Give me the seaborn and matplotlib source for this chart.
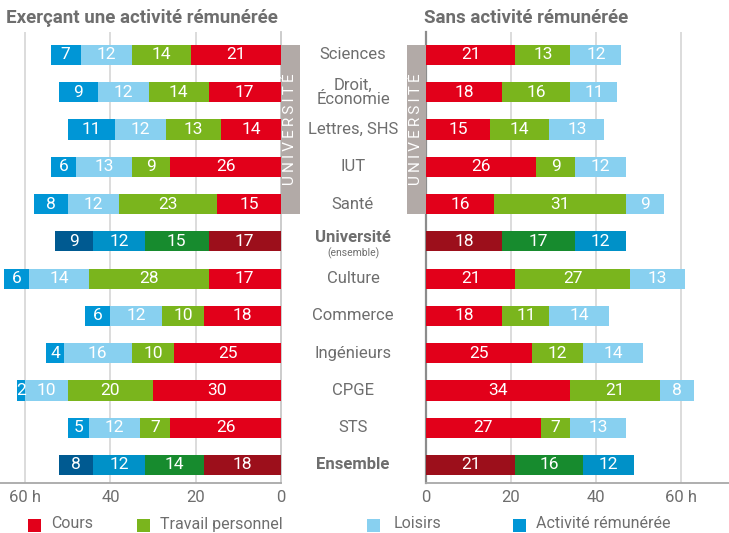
import matplotlib
matplotlib.use("Agg")
import matplotlib.pyplot as plt
import matplotlib.transforms as mtransforms
from matplotlib.patches import Rectangle
import seaborn as sns
import pandas as pd

categories = ["Sciences", "Droit,\nÉconomie", "Lettres, SHS", "IUT", "Santé",
              "Université", "Culture", "Commerce", "Ingénieurs", "CPGE", "STS", "Ensemble"]

# Left panel: students with a paid job (hours per week)
left_cours = [21, 17, 14, 26, 15, 17, 17, 18, 25, 30, 26, 18]
left_travail = [14, 14, 13, 9, 23, 15, 28, 10, 10, 20, 7, 14]
left_loisirs = [12, 12, 12, 13, 12, 12, 14, 12, 16, 10, 12, 12]
left_activite = [7, 9, 11, 6, 8, 9, 6, 6, 4, 2, 5, 8]

# Right panel: students without a paid job
right_cours = [21, 18, 15, 26, 16, 18, 21, 18, 25, 34, 27, 21]
right_travail = [13, 16, 14, 9, 31, 17, 27, 11, 12, 21, 7, 16]
right_loisirs = [12, 11, 13, 12, 9, 12, 13, 14, 14, 8, 13, 12]

series_names = ["Cours", "Travail personnel", "Loisirs", "Activité rémunérée"]
ticks_left = [60, 40, 20, 0]
ticks_left_labels = ["60 h", "40", "20", "0"]
ticks_right = [0, 20, 40, 60]
ticks_right_labels = ["0", "20", "40", "60 h"]

bold_rows = {"Université", "Ensemble"}

normal_cols = ["#e2001a", "#7ab51d", "#88d0f0", "#0096d6"]
dark_cols = ["#9c0f1b", "#178b2e", "#0091c8", "#005a91"]

FONT = ["Roboto", "DejaVu Sans"]
plt.rcParams["font.family"] = FONT
GREY_TXT = "#6e6e6e"

fig = plt.figure(figsize=(7.29, 5.33), dpi=100)
W, H = 729, 533

def px_axes(x0, x1, ytop, ybot):
    return fig.add_axes([x0 / W, (H - ybot) / H, (x1 - x0) / W, (ybot - ytop) / H])

axL = px_axes(0, 281, 32, 483)
axR = px_axes(426, 729, 32, 483)

def draw_panel(ax, series):
    df = pd.DataFrame({"cat": categories})
    n = len(series)
    cums = []
    total = [0] * len(categories)
    for s in series:
        total = [a + b for a, b in zip(total, s)]
        cums.append(list(total))
    for k in range(n - 1, -1, -1):
        df["v"] = cums[k]
        pal = {c: (dark_cols[k] if c in bold_rows else normal_cols[k]) for c in categories}
        sns.barplot(data=df, x="v", y="cat", hue="cat", palette=pal, orient="h",
                    width=0.54, legend=False, errorbar=None, saturation=1, ax=ax,
                    linewidth=0, zorder=3)
    for i in range(len(categories)):
        prev = 0
        for k in range(n):
            v = series[k][i]
            ax.text(prev + v / 2, i, str(v), ha="center", va="center",
                    color="white", fontsize=12.5, zorder=5)
            prev += v
    ax.set_xlabel("")
    ax.set_ylabel("")
    ax.set_yticks([])
    ax.set_ylim(11.483, -0.617)
    ax.tick_params(axis="x", length=0, labelsize=12, colors=GREY_TXT, pad=5)
    ax.spines["top"].set_visible(False)
    ax.spines["bottom"].set_color("#a8a8a8")
    ax.spines["bottom"].set_linewidth(1.3)
    ax.set_facecolor("none")

draw_panel(axL, [left_cours, left_travail, left_loisirs, left_activite])
draw_panel(axR, [right_cours, right_travail, right_loisirs])

axL.set_xlim(65.9, 0)
axL.set_xticks(ticks_left)
axL.set_xticklabels(ticks_left_labels)
axL.spines["left"].set_visible(False)
axL.spines["right"].set_color("#c8c8c8")
axL.spines["right"].set_linewidth(1.3)
for g in [20, 40, 60]:
    axL.axvline(g, color="#d6d6d6", lw=1.2, zorder=0)

axR.set_xlim(0, 71.3)
axR.set_xticks(ticks_right)
axR.set_xticklabels(ticks_right_labels)
axR.spines["right"].set_visible(False)
axR.spines["left"].set_color("#8c8c8c")
axR.spines["left"].set_linewidth(1.6)
for g in [20, 40, 60]:
    axR.axvline(g, color="#d6d6d6", lw=1.2, zorder=0)

# UNIVERSITÉ boxes
box_col = "#b2aaa7"
ytop_b, ybot_b = -0.27, 4.27
univ_txt = "\u2009".join("UNIVERSITÉ")
wL = 19 / (281 / 65.9)
axL.add_patch(Rectangle((-wL, ytop_b), wL, ybot_b - ytop_b, facecolor=box_col,
                        edgecolor="none", clip_on=False, zorder=4))
axL.text(-wL / 2, (ytop_b + ybot_b) / 2, univ_txt, rotation=90,
         ha="center", va="center", color="white", fontsize=11, clip_on=False, zorder=6)
wR = 19 / (303 / 71.3)
axR.add_patch(Rectangle((-wR, ytop_b), wR, ybot_b - ytop_b, facecolor=box_col,
                        edgecolor="none", clip_on=False, zorder=4))
axR.text(-wR / 2, (ytop_b + ybot_b) / 2, univ_txt, rotation=90,
         ha="center", va="center", color="white", fontsize=11, clip_on=False, zorder=6)

# Category labels
tr = mtransforms.blended_transform_factory(fig.transFigure, axR.transData)
cx = 353 / W
for i, c in enumerate(categories):
    if c == "Université":
        fig.text(cx, i - 0.1, c, transform=tr, ha="center", va="center",
                 color=GREY_TXT, fontsize=12, fontweight="bold")
        fig.text(cx, i + 0.32, "(ensemble)", transform=tr, ha="center", va="center",
                 color=GREY_TXT, fontsize=7.5)
    else:
        fig.text(cx, i, c, transform=tr, ha="center", va="center", color=GREY_TXT,
                 fontsize=12, linespacing=0.92,
                 fontweight="bold" if c in bold_rows else "normal")

# Titles
fig.text(6 / W, 1 - 18 / H, "Exerçant une activité rémunérée", ha="left", va="center",
         color=GREY_TXT, fontsize=13.5, fontweight="bold")
fig.text(424 / W, 1 - 18 / H, "Sans activité rémunérée", ha="left", va="center",
         color=GREY_TXT, fontsize=13.5, fontweight="bold")

# Legend
leg_items = [(28, 51), (137, 160), (367, 394), (513, 536)]
for (sx, tx), name, col in zip(leg_items, series_names, normal_cols):
    fig.add_artist(Rectangle((sx / W, 1 - 532 / H), 13 / W, 13 / H, facecolor=col,
                             edgecolor="none", transform=fig.transFigure))
    fig.text(tx / W, 1 - 524 / H, name, ha="left", va="center", color=GREY_TXT,
             fontsize=11.5)

fig.savefig("out.png", dpi=100, facecolor="white")
